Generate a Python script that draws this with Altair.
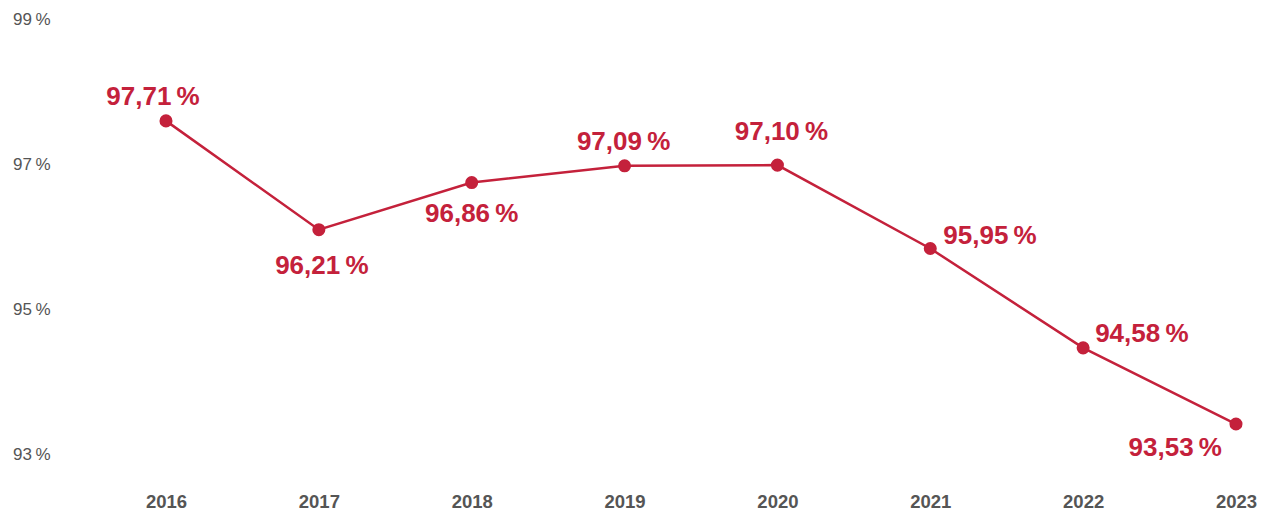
import altair as alt
import pandas as pd

years = [2016, 2017, 2018, 2019, 2020, 2021, 2022, 2023]
rates = [97.71, 96.21, 96.86, 97.09, 97.10, 95.95, 94.58, 93.53]
y_ticks = [93, 95, 97, 99]

df = pd.DataFrame({"year": years, "rate": rates})

RED = "#c4213b"
GREY = "#555555"
FONT = "Liberation Sans"

x = alt.X(
    "year:Q",
    title=None,
    scale=alt.Scale(domain=[2015.2935, 2023.144], nice=False, zero=False),
    axis=alt.Axis(values=years, format="d", labelFont=FONT, labelFontSize=18.5,
                  labelFontWeight="bold", labelColor=GREY, labelPadding=2,
                  domain=False, ticks=False, grid=False),
)
y = alt.Y(
    "rate:Q",
    title=None,
    scale=alt.Scale(domain=[92.62, 99.17], nice=False, zero=False),
    axis=alt.Axis(values=y_ticks, labelExpr="datum.value + '\u2009%'",
                  labelFont=FONT, labelFontSize=17, labelColor=GREY,
                  labelBaseline="alphabetic", labelAlign="right", labelPadding=8,
                  labelOffset=-2.5,
                  domain=False, ticks=False, grid=False),
)

base = alt.Chart(df).encode(x=x, y=y)
line = base.mark_line(color=RED, strokeWidth=2.5)
pts = base.mark_circle(color=RED, size=170, opacity=1)

# label placement style per year: (align, dx, dy)
placement = {
    2016: ("center", -13, -24),
    2017: ("center", 3, 36),
    2018: ("center", 0, 31),
    2019: ("center", -1, -24),
    2020: ("center", 4, -33),
    2021: ("left", 13, -13),
    2022: ("left", 12, -14),
    2023: ("right", -14, 24),
}

labels = []
for yr, (al, dx, dy) in placement.items():
    labels.append(
        base.transform_filter(alt.datum.year == yr)
        .transform_calculate(lab="replace(format(datum.rate, '.2f'), '.', ',') + '\u2009%'")
        .mark_text(align=al, baseline="middle", dx=dx, dy=dy, font=FONT,
                   fontSize=26, fontWeight="bold", color=RED)
        .encode(text="lab:N")
    )

chart = alt.layer(line, pts, *labels).properties(
    width=1200, height=475,
    autosize=alt.AutoSizeParams(type="none"),
    padding={"left": 50, "top": 7, "right": 0, "bottom": 30},
).configure_view(stroke=None)

chart.save("out.html", embed_options={"renderer": "svg", "actions": False})
